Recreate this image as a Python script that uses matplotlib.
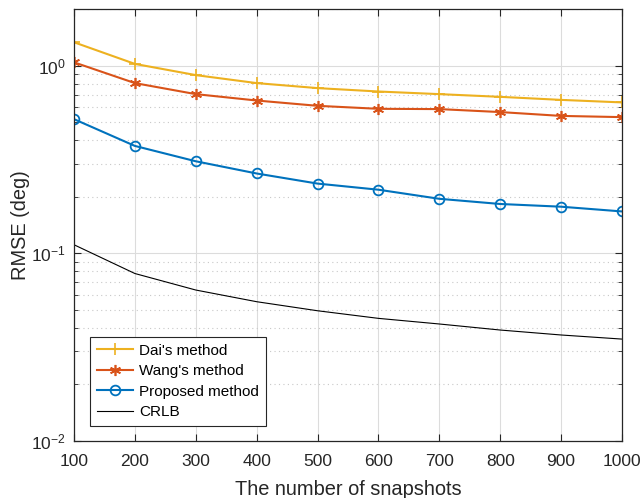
import matplotlib
matplotlib.use('Agg')
import matplotlib.pyplot as plt
import numpy as np

plt.rcParams['font.family'] = ['Liberation Sans', 'DejaVu Sans']

# 數據
snapshots = [100, 200, 300, 400, 500, 600, 700, 800, 900, 1000]
dai = [1.33, 1.02, 0.889, 0.806, 0.758, 0.727, 0.704, 0.681, 0.656, 0.636]
wang = [1.04, 0.806, 0.704, 0.651, 0.610, 0.588, 0.586, 0.565, 0.539, 0.531]
proposed = [0.518, 0.373, 0.309, 0.266, 0.235, 0.218, 0.195, 0.183, 0.177, 0.167]
crlb = [0.111, 0.078, 0.0637, 0.0552, 0.0494, 0.045, 0.042, 0.039, 0.0367, 0.0349]

AX_COLOR = '#262626'

fig = plt.figure(figsize=(6.41, 4.98), dpi=100)
ax = fig.add_axes([74 / 641, 1 - 441 / 498, 548 / 641, 432 / 498])

ax.semilogy(snapshots, dai, color='#EDB120', marker='+', markersize=8, mew=1.2,
            lw=1.5, label="Dai's method")
ax.semilogy(snapshots, wang, color='#D95319', marker=(6, 2, 0), markersize=8, mew=1.2,
            lw=1.5, label="Wang's method")
ax.semilogy(snapshots, proposed, color='#0072BD', marker='o', markersize=7,
            mfc='none', mew=1.3, lw=1.5, label='Proposed method')
ax.semilogy(snapshots, crlb, color='black', lw=0.8, label='CRLB')

ax.set_xlim(100, 1000)
ax.set_ylim(0.01, 2)
ax.set_xticks(snapshots)

ax.grid(True, which='major', color='#dcdcdc', linestyle='-', lw=0.8)
ax.grid(True, which='minor', axis='y', color='#c8c8c8', linestyle=(0, (1, 3)), lw=0.8)
ax.set_axisbelow(True)

ax.tick_params(which='both', direction='in', top=True, right=True,
               colors=AX_COLOR, labelsize=12.5)
ax.tick_params(which='major', length=5)
ax.tick_params(which='minor', length=3)
ax.tick_params(axis='x', pad=9)
ax.tick_params(axis='y', pad=6)
for sp in ax.spines.values():
    sp.set_color(AX_COLOR)
    sp.set_linewidth(0.9)

ax.set_xlabel('The number of snapshots', fontsize=14.4, color=AX_COLOR, labelpad=8)
ax.set_ylabel('RMSE (deg)', fontsize=14.4, color=AX_COLOR, labelpad=1)

leg = ax.legend(loc='lower left', bbox_to_anchor=(0.029, 0.035), borderaxespad=0,
                fontsize=11, fancybox=False, edgecolor=AX_COLOR, framealpha=1,
                handlelength=2.4, handletextpad=0.35, borderpad=0.45, labelspacing=0.42)
leg.get_frame().set_linewidth(0.8)

fig.savefig('out.png', dpi=100)
